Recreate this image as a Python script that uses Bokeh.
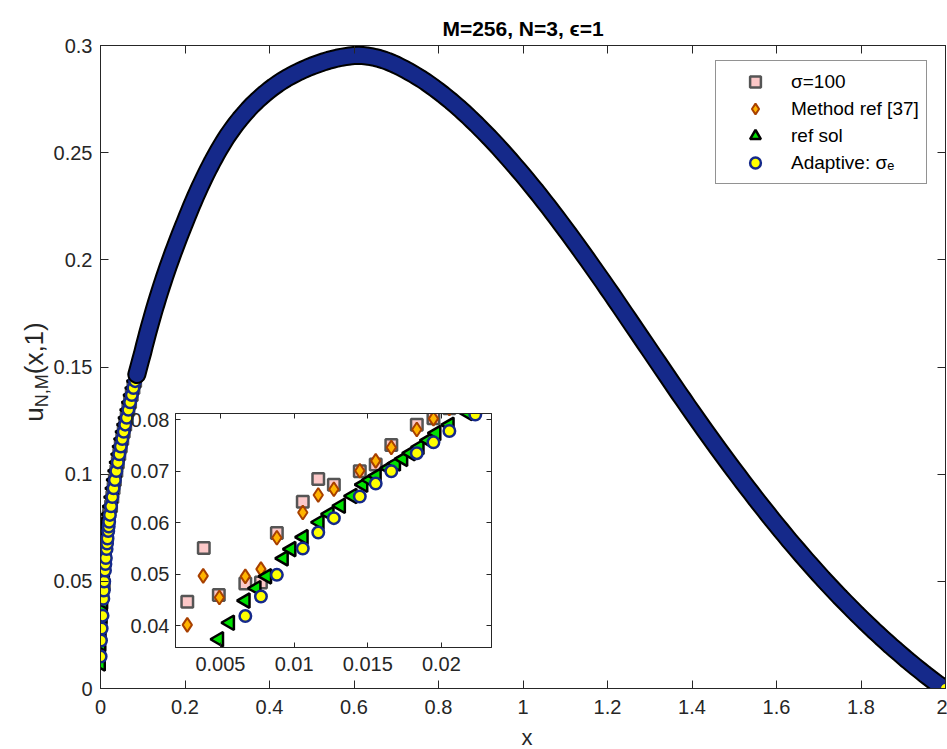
import math
from bokeh.plotting import figure
from bokeh.models import (Range1d, LinearAxis, FixedTicker, NumeralTickFormatter,
                          Legend, LegendItem, GridBox, ColumnDataSource, Div)
from bokeh.embed import file_html
from bokeh.resources import INLINE

# ---------------- data ----------------
# shared smooth part of all four solutions (x >= 0.025)
x_curve = [0.025, 0.028, 0.031, 0.034, 0.0375, 0.041, 0.0445, 0.048, 0.0515, 0.055,
           0.0585, 0.062, 0.066, 0.070, 0.074, 0.078, 0.082, 0.086, 0.090, 0.095, 0.100,
           0.104, 0.108, 0.112, 0.116, 0.120, 0.124, 0.128, 0.132, 0.136, 0.140,
           0.144, 0.148, 0.152, 0.156, 0.160, 0.164, 0.168, 0.172, 0.176, 0.180,
           0.184, 0.188, 0.192, 0.196, 0.200,
           0.205, 0.210, 0.215, 0.220, 0.225, 0.230, 0.235, 0.240, 0.245, 0.250,
           0.255, 0.260, 0.265, 0.270, 0.275, 0.280, 0.285, 0.290, 0.295, 0.300,
           0.31, 0.32, 0.33, 0.34, 0.35, 0.36, 0.37, 0.38, 0.39, 0.40,
           0.41, 0.42, 0.43, 0.44, 0.45, 0.46, 0.47, 0.48, 0.49, 0.50,
           0.51, 0.52, 0.53, 0.54, 0.55, 0.56, 0.57, 0.58, 0.59, 0.60,
           0.61, 0.62, 0.63, 0.64, 0.65, 0.66, 0.67, 0.68, 0.69, 0.70,
           0.71, 0.72, 0.73, 0.74, 0.75, 0.76, 0.77, 0.78, 0.79, 0.80,
           0.81, 0.82, 0.83, 0.84, 0.85, 0.86, 0.87, 0.88, 0.89, 0.90,
           0.91, 0.92, 0.93, 0.94, 0.95, 0.96, 0.97, 0.98, 0.99, 1.00,
           1.01, 1.02, 1.03, 1.04, 1.05, 1.06, 1.07, 1.08, 1.09, 1.10,
           1.11, 1.12, 1.13, 1.14, 1.15, 1.16, 1.17, 1.18, 1.19, 1.20,
           1.21, 1.22, 1.23, 1.24, 1.25, 1.26, 1.27, 1.28, 1.29, 1.30,
           1.31, 1.32, 1.33, 1.34, 1.35, 1.36, 1.37, 1.38, 1.39, 1.40,
           1.41, 1.42, 1.43, 1.44, 1.45, 1.46, 1.47, 1.48, 1.49, 1.50,
           1.51, 1.52, 1.53, 1.54, 1.55, 1.56, 1.57, 1.58, 1.59, 1.60,
           1.61, 1.62, 1.63, 1.64, 1.65, 1.66, 1.67, 1.68, 1.69, 1.70,
           1.71, 1.72, 1.73, 1.74, 1.75, 1.76, 1.77, 1.78, 1.79, 1.80,
           1.81, 1.82, 1.83, 1.84, 1.85, 1.86, 1.87, 1.88, 1.89, 1.90,
           1.91, 1.92, 1.93, 1.94, 1.95, 1.96, 1.97, 1.98, 1.99, 2.00]
y_curve = [0.0850, 0.0893, 0.0934, 0.0973, 0.1015, 0.1055, 0.1093, 0.1129, 0.1164, 0.1198,
           0.1231, 0.1263, 0.1300, 0.1335, 0.1369, 0.1402, 0.1434, 0.1465, 0.1495, 0.1532, 0.1568,
           0.1600, 0.1630, 0.1660, 0.1689, 0.1717, 0.1745, 0.1772, 0.1798, 0.1824, 0.1849,
           0.1874, 0.1898, 0.1922, 0.1945, 0.1968, 0.1990, 0.2012, 0.2034, 0.2055, 0.2076,
           0.2097, 0.2117, 0.2137, 0.2157, 0.2176,
           0.2201, 0.2225, 0.2249, 0.2272, 0.2295, 0.2317, 0.2339, 0.2360, 0.2381, 0.2401,
           0.2421, 0.2440, 0.2459, 0.2477, 0.2495, 0.2512, 0.2529, 0.2545, 0.2561, 0.2577,
           0.2605, 0.2632, 0.2657, 0.2680, 0.2702, 0.2723, 0.2742, 0.2760, 0.2777, 0.2793,
           0.2808, 0.2822, 0.2835, 0.2847, 0.2858, 0.2868, 0.2878, 0.2887, 0.2896, 0.2904,
           0.2911, 0.2918, 0.2925, 0.2931, 0.2936, 0.2941, 0.2945, 0.2948, 0.2951, 0.2953,
           0.2954, 0.2953, 0.2951, 0.2948, 0.2944, 0.2939, 0.2933, 0.2926, 0.2918, 0.2909,
           0.2899, 0.2889, 0.2878, 0.2867, 0.2855, 0.2843, 0.2830, 0.2816, 0.2802, 0.2787,
           0.2772, 0.2756, 0.2740, 0.2723, 0.2706, 0.2688, 0.2670, 0.2651, 0.2632, 0.2612,
           0.2592, 0.2572, 0.2551, 0.2530, 0.2508, 0.2486, 0.2464, 0.2441, 0.2418, 0.2395,
           0.2371, 0.2347, 0.2323, 0.2298, 0.2273, 0.2248, 0.2222, 0.2196, 0.2170, 0.2143,
           0.2117, 0.2090, 0.2063, 0.2035, 0.2008, 0.1980, 0.1952, 0.1924, 0.1896, 0.1867,
           0.1839, 0.1810, 0.1781, 0.1752, 0.1723, 0.1694, 0.1665, 0.1636, 0.1607, 0.1578,
           0.1549, 0.1520, 0.1491, 0.1462, 0.1433, 0.1404, 0.1375, 0.1347, 0.1318, 0.1290,
           0.1262, 0.1234, 0.1206, 0.1179, 0.1151, 0.1124, 0.1097, 0.1070, 0.1043, 0.1017,
           0.0991, 0.0965, 0.0939, 0.0914, 0.0888, 0.0863, 0.0838, 0.0813, 0.0788, 0.0764,
           0.0740, 0.0716, 0.0692, 0.0669, 0.0646, 0.0623, 0.0600, 0.0578, 0.0556, 0.0534,
           0.0512, 0.0491, 0.0470, 0.0449, 0.0428, 0.0408, 0.0388, 0.0368, 0.0348, 0.0329,
           0.0310, 0.0291, 0.0272, 0.0254, 0.0236, 0.0218, 0.0200, 0.0183, 0.0166, 0.0149,
           0.0132, 0.0116, 0.0100, 0.0084, 0.0068, 0.0053, 0.0038, 0.0023, 0.0010, 0.0000]

# near x = 0 the four solutions differ
sq_x_small = [0.0005, 0.0015, 0.00275, 0.00387, 0.00489, 0.00669, 0.00775, 0.00883, 0.01059,
              0.01164, 0.0127, 0.01446, 0.01554, 0.0166, 0.01833, 0.01946, 0.02054]
sq_y_small = [0.0300, 0.0380, 0.0447, 0.0551, 0.0460, 0.0482, 0.0484, 0.0580, 0.0641,
              0.0685, 0.0674, 0.0700, 0.0713, 0.0751, 0.0790, 0.0803, 0.0822]
dm_x_small = [0.0005, 0.0015, 0.00275, 0.00383, 0.00493, 0.00669, 0.00775, 0.00883, 0.01059,
              0.01164, 0.0127, 0.01446, 0.01554, 0.0166, 0.01833, 0.01946, 0.02054]
dm_y_small = [0.0260, 0.0340, 0.0402, 0.0497, 0.0455, 0.0496, 0.0510, 0.0571, 0.0620,
              0.0654, 0.0665, 0.0701, 0.0720, 0.0746, 0.0781, 0.0802, 0.0822]
tri_x_small = [0.0002, 0.0006, 0.0012, 0.0020, 0.0030, 0.0040, 0.00489, 0.00563, 0.00669,
               0.00743, 0.00815, 0.00928, 0.0098, 0.01063, 0.01171, 0.01239, 0.01316, 0.01395,
               0.01468, 0.01515, 0.01559, 0.0164, 0.0169, 0.01739, 0.0179, 0.0185, 0.0191,
               0.01964, 0.02054, 0.02178]
tri_y_small = [0.0117, 0.0165, 0.0210, 0.0255, 0.0295, 0.0337, 0.0374, 0.0406, 0.0449,
               0.0473, 0.0496, 0.0531, 0.0549, 0.0572, 0.0601, 0.0617, 0.0633, 0.0652,
               0.0674, 0.0683, 0.0691, 0.0706, 0.0715, 0.0724, 0.0735, 0.0747, 0.0760,
               0.0774, 0.0790, 0.0813]
ci_x_small = [0.0003, 0.0012, 0.0027, 0.0048, 0.00669, 0.00775, 0.00883, 0.01059, 0.01164,
              0.0127, 0.01446, 0.01554, 0.0166, 0.01833, 0.01946, 0.02054, 0.0223]
ci_y_small = [0.0149, 0.0224, 0.0280, 0.0340, 0.0419, 0.0457, 0.0499, 0.0550, 0.0581,
              0.0609, 0.0651, 0.0676, 0.0700, 0.0735, 0.0756, 0.0778, 0.0810]

series_labels = ["σ=100", "Method ref [37]", "ref sol", "Adaptive: σₑ"]
title_text = "M=256, N=3, ϵ=1"
xlabel_text = "x"
ylabel_main, ylabel_sub, ylabel_tail = "u", "N,M", "(x,1)"

main_xticks = [0, 0.2, 0.4, 0.6, 0.8, 1.0, 1.2, 1.4, 1.6, 1.8, 2.0]
main_yticks = [0, 0.05, 0.1, 0.15, 0.2, 0.25, 0.3]
inset_xticks = [0.005, 0.01, 0.015, 0.02]
inset_yticks = [0.04, 0.05, 0.06, 0.07, 0.08]

# ---------------- styling ----------------
AX = "#262626"
FONT = "Liberation Sans"
TICK_FS = "20px"
BAND_FROM = 0.086   # beyond this x the dense markers merge into one solid band
W, H = 947, 749

all_x = [sq_x_small + x_curve, dm_x_small + x_curve, tri_x_small + x_curve, ci_x_small + x_curve]
all_y = [sq_y_small + y_curve, dm_y_small + y_curve, tri_y_small + y_curve, ci_y_small + y_curve]
sources = [ColumnDataSource(dict(x=xs, y=ys)) for xs, ys in zip(all_x, all_y)]

styles = [
    dict(marker="square", size=11.5, fill_color="#fcc8c8", line_color="#555555", line_width=2.5),
    dict(marker="diamond", size=14, fill_color="#ffb400", line_color="#a84000", line_width=2),
    dict(marker="triangle", size=14.5, angle=math.pi / 2, fill_color="#00e000",
         line_color="#000000", line_width=2.5),
    dict(marker="circle", size=11.5, fill_color="#ffff00", line_color="#15298a", line_width=2.5),
]

ci_sep = ColumnDataSource(dict(x=[v for v in all_x[3] if v <= BAND_FROM],
                               y=[w for v, w in zip(all_x[3], all_y[3]) if v <= BAND_FROM]))
band = ColumnDataSource(dict(x=[v for v in x_curve if v >= BAND_FROM],
                             y=[w for v, w in zip(x_curve, y_curve) if v >= BAND_FROM]))
ci_last = ColumnDataSource(dict(x=all_x[3][-1:], y=all_y[3][-1:]))


def style_axis(ax, ticks, tick_in, labels=True, standoff=5):
    ax.ticker = FixedTicker(ticks=ticks)
    ax.formatter = NumeralTickFormatter(format="0.[000]")
    ax.axis_line_color = AX
    ax.major_tick_line_color = AX
    ax.major_tick_in = tick_in
    ax.major_tick_out = 0
    ax.minor_tick_line_color = None
    ax.major_label_text_font = FONT
    if labels:
        ax.major_label_text_color = AX
        ax.major_label_text_font_size = TICK_FS
        ax.major_label_standoff = standoff
    else:
        ax.major_label_text_color = None
        ax.major_label_text_font_size = "0px"
        ax.major_label_standoff = 0


def add_mirror_axes(fig, xt, yt, tick_in):
    top = LinearAxis()
    style_axis(top, xt, tick_in, labels=False)
    fig.add_layout(top, "above")
    right = LinearAxis()
    style_axis(right, yt, tick_in, labels=False)
    fig.add_layout(right, "right")


# ---------------- main figure ----------------
p = figure(width=W, height=H, x_range=Range1d(0, 2), y_range=Range1d(0, 0.3),
           output_backend="svg", toolbar_location=None,
           min_border_left=100, min_border_right=2, min_border_top=45, min_border_bottom=61)
p.background_fill_color = "white"
p.border_fill_color = "white"
p.outline_line_color = AX
p.grid.visible = False
style_axis(p.below[0], main_xticks, 8, standoff=11)
style_axis(p.left[0], main_yticks, 8, standoff=8)
add_mirror_axes(p, main_xticks, main_yticks, 8)

p.title.text = title_text
p.title.align = "center"
p.title.text_font = FONT
p.title.text_font_size = "21px"
p.title.text_font_style = "bold"
p.title.text_color = "#000000"
p.title.standoff = 11

r_sq = p.scatter(x="x", y="y", source=sources[0], **styles[0])
r_dm = p.scatter(x="x", y="y", source=sources[1], **styles[1])
r_tri = p.scatter(x="x", y="y", source=sources[2], **styles[2])
r_ci = p.scatter(x="x", y="y", source=ci_sep, **styles[3])
# where the markers pile up they form one band: black triangle outlines, blue circle rims
p.line(x="x", y="y", source=band, line_color="#000000", line_width=19,
       line_join="round", line_cap="round")
p.line(x="x", y="y", source=band, line_color="#15298a", line_width=15,
       line_join="round", line_cap="round")
p.scatter(x="x", y="y", source=ci_last, **styles[3])

legend = Legend(items=[LegendItem(label=l, renderers=[r])
                       for l, r in zip(series_labels, [r_sq, r_dm, r_tri, r_ci])],
                location=(615, 504))
legend.label_text_font = FONT
legend.label_text_font_size = "19px"
legend.label_text_color = "#000000"
legend.glyph_width = 64
legend.glyph_height = 27
legend.label_height = 27
legend.spacing = 0
legend.padding = 7
legend.margin = 0
legend.label_standoff = 4
legend.border_line_color = AX
legend.border_line_width = 1
legend.background_fill_color = "white"
legend.background_fill_alpha = 1
p.add_layout(legend, "center")

# ---------------- inset ----------------
ins = figure(width=376, height=280, x_range=Range1d(0.00195, 0.0234), y_range=Range1d(0.0358, 0.0812),
             output_backend="svg", toolbar_location=None,
             min_border_left=50, min_border_right=10, min_border_top=10, min_border_bottom=36)
ins.background_fill_color = "white"
ins.border_fill_color = None
ins.outline_line_color = AX
ins.grid.visible = False
style_axis(ins.below[0], inset_xticks, 5, standoff=9)
style_axis(ins.left[0], inset_yticks, 5, standoff=6)
add_mirror_axes(ins, inset_xticks, inset_yticks, 5)
for src, st in zip(sources, styles):
    ins.scatter(x="x", y="y", source=src, **st)

# ---------------- axis titles as real HTML text over the plot ----------------
labels_html = (
    f'<div style="position:relative;width:{W}px;height:{H}px;font-family:\'{FONT}\';'
    f'color:{AX};pointer-events:none;">'
    f'<div style="position:absolute;left:29px;top:367px;white-space:nowrap;font-size:26px;'
    f'line-height:1;transform:translate(-50%,-50%) rotate(-90deg);">'
    f'{ylabel_main}<span style="font-size:18px;position:relative;top:5px;">{ylabel_sub}</span>'
    f'{ylabel_tail}</div>'
    f'<div style="position:absolute;left:522px;top:733px;white-space:nowrap;font-size:22px;'
    f'line-height:1;transform:translate(-50%,-50%);">{xlabel_text}</div>'
    f'</div>'
)
labels_div = Div(text=labels_html, width=W, height=H)

layout = GridBox(children=[(p, 0, 0, 3, 3), (ins, 1, 1, 1, 1), (labels_div, 0, 0, 3, 3)],
                 rows=["403px", "280px", "66px"], cols=["125px", "376px", "446px"])

open("out.html", "w").write(file_html(layout, INLINE))
